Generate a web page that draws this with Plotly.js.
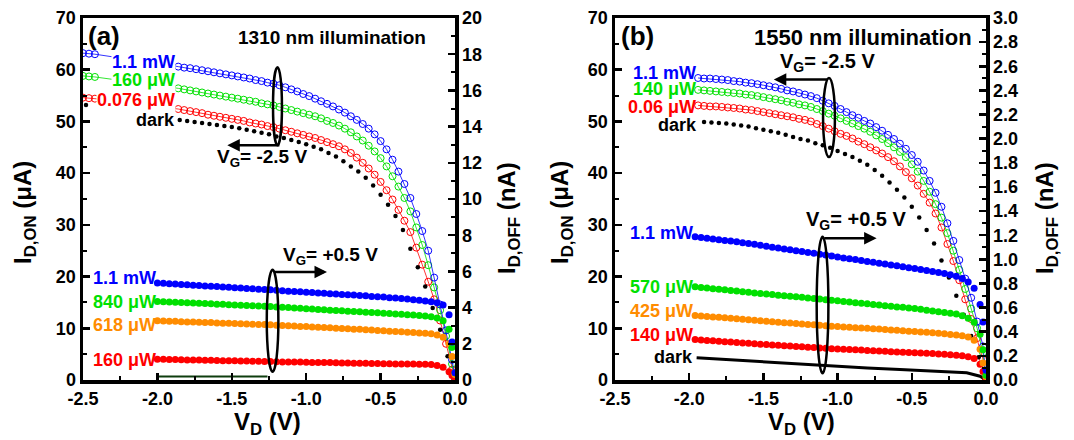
<!DOCTYPE html>
<html><head><meta charset="utf-8">
<script src="https://cdn.plot.ly/plotly-3.0.1.min.js"></script>
<style>html,body{margin:0;padding:0;background:#fff}#chart{width:1074px;height:440px}</style>
</head><body><div id="chart"></div>
<script>
// ---------- tick labels ----------
const xTickVals = [-2.5, -2.0, -1.5, -1.0, -0.5, 0.0];
const xTickText = ['-2.5', '-2.0', '-1.5', '-1.0', '-0.5', '0.0'];
const xMinorVals = [-2.25, -1.75, -1.25, -0.75, -0.25];
const yOnTickVals = [0, 10, 20, 30, 40, 50, 60, 70];
const yOnMinorVals = [5, 15, 25, 35, 45, 55, 65];
const yOffATickVals = [0, 2, 4, 6, 8, 10, 12, 14, 16, 18, 20];
const yOffAMinorVals = [1, 3, 5, 7, 9, 11, 13, 15, 17, 19];
const yOffBTickVals = [0, 0.2, 0.4, 0.6, 0.8, 1.0, 1.2, 1.4, 1.6, 1.8, 2.0, 2.2, 2.4, 2.6, 2.8, 3.0];
const yOffBTickText = ['0.0','0.2','0.4','0.6','0.8','1.0','1.2','1.4','1.6','1.8','2.0','2.2','2.4','2.6','2.8','3.0'];
const yOffBMinorVals = [0.1,0.3,0.5,0.7,0.9,1.1,1.3,1.5,1.7,1.9,2.1,2.3,2.5,2.7,2.9];

// ---------- panel (a): 1310 nm ----------
const vdOnA = [-2.5, -2.46, -2.42, -1.86, -1.82, -1.78, -1.74, -1.70, -1.66, -1.62, -1.58, -1.54, -1.50, -1.46, -1.42, -1.38, -1.34, -1.30, -1.26, -1.22, -1.18, -1.14, -1.10, -1.06, -1.02, -0.98, -0.94, -0.90, -0.86, -0.82, -0.78, -0.74, -0.70, -0.66, -0.62, -0.58, -0.54, -0.50, -0.46, -0.42, -0.38, -0.34, -0.30, -0.26, -0.22, -0.18, -0.14, -0.10, -0.06, -0.02, 0];
const onA_1p1mW = [63.2, 63.1, 63.0, 60.6, 60.4, 60.3, 60.1, 59.9, 59.7, 59.5, 59.3, 59.1, 58.9, 58.7, 58.5, 58.3, 58.0, 57.8, 57.5, 57.3, 57.0, 56.6, 56.2, 55.8, 55.3, 54.9, 54.4, 53.9, 53.4, 52.9, 52.3, 51.7, 51.0, 50.3, 49.5, 48.6, 47.5, 46.2, 44.6, 42.6, 40.3, 37.9, 35.2, 32.1, 28.8, 25.0, 19.8, 14.6, 9.6, 3.9, 0.5];
const onA_160uW = [58.8, 58.7, 58.6, 56.4, 56.2, 56.0, 55.8, 55.6, 55.4, 55.2, 55.0, 54.8, 54.6, 54.4, 54.2, 54.0, 53.8, 53.5, 53.3, 53.1, 52.8, 52.5, 52.2, 51.9, 51.6, 51.3, 51.0, 50.6, 50.1, 49.7, 49.2, 48.6, 47.9, 47.1, 46.3, 45.3, 44.2, 42.9, 41.3, 39.4, 37.4, 35.2, 32.6, 29.5, 26.1, 22.2, 17.9, 13.5, 8.5, 3.1, 0.4];
const onA_0076uW = [54.6, 54.5, 54.4, 52.4, 52.2, 52.0, 51.8, 51.6, 51.3, 51.1, 50.9, 50.7, 50.5, 50.3, 50.1, 49.8, 49.6, 49.4, 49.1, 48.9, 48.6, 48.3, 48.0, 47.7, 47.4, 47.1, 46.8, 46.4, 46.0, 45.6, 45.2, 44.6, 43.9, 43.0, 42.0, 40.9, 39.7, 38.3, 36.7, 34.9, 32.9, 30.8, 28.6, 25.6, 22.3, 19.0, 15.6, 11.5, 7.0, 2.0, 0.2];
const vdDarkA = [-2.48, -1.85, -1.80, -1.75, -1.70, -1.65, -1.60, -1.55, -1.50, -1.45, -1.40, -1.35, -1.30, -1.25, -1.20, -1.15, -1.10, -1.05, -1.00, -0.95, -0.90, -0.85, -0.80, -0.75, -0.70, -0.65, -0.60, -0.55, -0.50, -0.45, -0.40, -0.35, -0.30, -0.25, -0.20, -0.15, -0.10, -0.05, 0];
const onA_dark = [53.2, 50.3, 50.1, 49.9, 49.7, 49.5, 49.3, 49.1, 48.9, 48.7, 48.4, 48.1, 47.8, 47.5, 47.1, 46.8, 46.4, 46.0, 45.6, 45.1, 44.6, 43.9, 43.2, 42.3, 41.3, 40.3, 39.1, 37.6, 35.8, 33.9, 31.7, 29.0, 25.4, 21.8, 18.1, 13.9, 9.7, 4.6, 0.3];
const vdOffA = [-2.00, -1.96, -1.92, -1.88, -1.84, -1.80, -1.76, -1.72, -1.68, -1.64, -1.60, -1.56, -1.52, -1.48, -1.44, -1.40, -1.36, -1.32, -1.28, -1.24, -1.20, -1.16, -1.12, -1.08, -1.04, -1.00, -0.96, -0.92, -0.88, -0.84, -0.80, -0.76, -0.72, -0.68, -0.64, -0.60, -0.56, -0.52, -0.48, -0.44, -0.40, -0.36, -0.32, -0.28, -0.24, -0.20, -0.16, -0.12, -0.08, -0.04, -0.02, 0];
const offA_1p1mW = [5.36, 5.34, 5.32, 5.30, 5.28, 5.26, 5.24, 5.22, 5.20, 5.18, 5.16, 5.14, 5.12, 5.10, 5.08, 5.06, 5.04, 5.02, 5.00, 4.98, 4.96, 4.93, 4.91, 4.89, 4.87, 4.85, 4.83, 4.81, 4.79, 4.77, 4.75, 4.73, 4.71, 4.69, 4.67, 4.65, 4.62, 4.60, 4.58, 4.55, 4.53, 4.50, 4.47, 4.44, 4.40, 4.37, 4.33, 4.27, 4.15, 3.60, 2.10, 0.4];
const offA_840uW = [4.34, 4.33, 4.31, 4.30, 4.28, 4.27, 4.25, 4.24, 4.22, 4.21, 4.19, 4.18, 4.16, 4.15, 4.13, 4.12, 4.10, 4.09, 4.07, 4.06, 4.04, 4.02, 4.00, 3.98, 3.96, 3.94, 3.92, 3.90, 3.88, 3.86, 3.84, 3.82, 3.80, 3.78, 3.77, 3.75, 3.73, 3.71, 3.69, 3.67, 3.65, 3.63, 3.61, 3.59, 3.57, 3.54, 3.50, 3.42, 3.28, 2.80, 1.80, 0.4];
const offA_618uW = [3.27, 3.26, 3.25, 3.24, 3.22, 3.21, 3.20, 3.19, 3.18, 3.17, 3.15, 3.14, 3.13, 3.12, 3.11, 3.09, 3.08, 3.07, 3.06, 3.05, 3.03, 3.01, 3.00, 2.98, 2.96, 2.95, 2.93, 2.91, 2.90, 2.88, 2.86, 2.85, 2.83, 2.81, 2.80, 2.78, 2.76, 2.74, 2.72, 2.70, 2.68, 2.66, 2.64, 2.62, 2.60, 2.58, 2.55, 2.49, 2.36, 2.00, 1.30, 0.3];
const offA_160uW = [1.15, 1.14, 1.13, 1.13, 1.12, 1.11, 1.11, 1.10, 1.09, 1.09, 1.08, 1.07, 1.07, 1.06, 1.05, 1.05, 1.04, 1.03, 1.02, 1.02, 1.01, 1.00, 1.00, 0.99, 0.99, 0.98, 0.97, 0.97, 0.96, 0.96, 0.95, 0.94, 0.94, 0.93, 0.92, 0.92, 0.91, 0.91, 0.90, 0.90, 0.89, 0.89, 0.88, 0.88, 0.87, 0.87, 0.85, 0.80, 0.70, 0.45, 0.25, 0.05];
const vdOffDarkA = [-2.0, -1.26];
const offA_dark = [0.2, 0.2];

// ---------- panel (b): 1550 nm ----------
const vdOnB = [-1.94, -1.90, -1.86, -1.82, -1.78, -1.74, -1.70, -1.66, -1.62, -1.58, -1.54, -1.50, -1.46, -1.42, -1.38, -1.34, -1.30, -1.26, -1.22, -1.18, -1.14, -1.10, -1.06, -1.02, -0.98, -0.94, -0.90, -0.86, -0.82, -0.78, -0.74, -0.70, -0.66, -0.62, -0.58, -0.54, -0.50, -0.46, -0.42, -0.38, -0.34, -0.30, -0.26, -0.22, -0.18, -0.14, -0.10, -0.06, -0.02, 0];
const onB_1p1mW = [58.4, 58.3, 58.3, 58.2, 58.1, 58.0, 57.8, 57.7, 57.5, 57.4, 57.2, 57.0, 56.8, 56.6, 56.3, 56.0, 55.8, 55.5, 55.2, 54.9, 54.5, 54.0, 53.5, 53.0, 52.4, 51.8, 51.2, 50.7, 50.1, 49.6, 48.9, 48.2, 47.4, 46.6, 45.7, 44.7, 43.5, 42.2, 40.5, 38.5, 36.2, 33.5, 30.3, 26.9, 23.2, 19.6, 15.9, 11.3, 6.5, 0.5];
const onB_140uW = [56.1, 56.0, 55.9, 55.8, 55.7, 55.6, 55.5, 55.4, 55.2, 55.1, 54.9, 54.7, 54.5, 54.3, 54.1, 53.8, 53.6, 53.3, 53.1, 52.8, 52.4, 52.0, 51.5, 51.1, 50.6, 50.1, 49.6, 49.1, 48.6, 48.0, 47.3, 46.6, 45.8, 45.0, 44.1, 43.1, 41.7, 40.3, 38.5, 36.4, 34.0, 31.4, 28.4, 25.0, 21.3, 17.6, 13.8, 10.0, 5.3, 0.5];
const onB_006uW = [53.1, 53.0, 52.9, 52.9, 52.8, 52.7, 52.6, 52.5, 52.3, 52.2, 52.0, 51.8, 51.6, 51.4, 51.2, 51.0, 50.8, 50.5, 50.3, 50.0, 49.5, 49.1, 48.6, 48.1, 47.6, 47.2, 46.7, 46.1, 45.6, 45.0, 44.4, 43.8, 43.1, 42.3, 41.3, 40.2, 39.0, 37.6, 36.0, 34.3, 32.2, 29.5, 26.3, 23.0, 19.3, 15.6, 11.8, 8.1, 4.0, 0.3];
const vdDarkB = [-1.90, -1.85, -1.80, -1.75, -1.70, -1.65, -1.60, -1.55, -1.50, -1.45, -1.40, -1.35, -1.30, -1.25, -1.20, -1.15, -1.10, -1.05, -1.00, -0.95, -0.90, -0.85, -0.80, -0.75, -0.70, -0.65, -0.60, -0.55, -0.50, -0.45, -0.40, -0.35, -0.30, -0.25, -0.20, -0.15, -0.10, -0.05, 0];
const onB_dark = [49.9, 49.8, 49.7, 49.6, 49.4, 49.2, 49.0, 48.7, 48.4, 48.1, 47.8, 47.4, 47.0, 46.6, 46.3, 45.8, 45.4, 44.9, 44.3, 43.7, 43.1, 42.4, 41.6, 40.6, 39.5, 38.2, 36.8, 35.3, 33.5, 31.4, 29.0, 26.4, 23.1, 19.8, 16.3, 12.6, 8.5, 4.4, 0.3];
const vdOffB = [-1.96, -1.92, -1.88, -1.84, -1.80, -1.76, -1.72, -1.68, -1.64, -1.60, -1.56, -1.52, -1.48, -1.44, -1.40, -1.36, -1.32, -1.28, -1.24, -1.20, -1.16, -1.12, -1.08, -1.04, -1.00, -0.96, -0.92, -0.88, -0.84, -0.80, -0.76, -0.72, -0.68, -0.64, -0.60, -0.56, -0.52, -0.48, -0.44, -0.40, -0.36, -0.32, -0.28, -0.24, -0.20, -0.16, -0.12, -0.08, -0.04, -0.02, 0];
const offB_1p1mW = [1.187, 1.181, 1.175, 1.169, 1.163, 1.157, 1.151, 1.145, 1.138, 1.131, 1.124, 1.116, 1.108, 1.100, 1.093, 1.086, 1.079, 1.072, 1.065, 1.057, 1.050, 1.042, 1.035, 1.027, 1.020, 1.012, 1.005, 0.998, 0.991, 0.983, 0.976, 0.968, 0.961, 0.953, 0.946, 0.938, 0.931, 0.923, 0.915, 0.908, 0.900, 0.891, 0.882, 0.872, 0.860, 0.842, 0.812, 0.760, 0.625, 0.48, 0.08];
const offB_570uW = [0.772, 0.767, 0.762, 0.757, 0.752, 0.747, 0.742, 0.737, 0.732, 0.727, 0.722, 0.717, 0.713, 0.708, 0.703, 0.699, 0.694, 0.689, 0.685, 0.680, 0.676, 0.671, 0.666, 0.661, 0.656, 0.651, 0.646, 0.641, 0.636, 0.631, 0.626, 0.621, 0.616, 0.611, 0.606, 0.602, 0.597, 0.592, 0.586, 0.579, 0.571, 0.565, 0.559, 0.553, 0.546, 0.532, 0.511, 0.478, 0.380, 0.25, 0.04];
const offB_425uW = [0.535, 0.531, 0.527, 0.523, 0.519, 0.515, 0.511, 0.507, 0.503, 0.499, 0.495, 0.491, 0.487, 0.483, 0.479, 0.475, 0.472, 0.468, 0.464, 0.460, 0.457, 0.453, 0.449, 0.446, 0.443, 0.440, 0.437, 0.434, 0.431, 0.428, 0.425, 0.422, 0.419, 0.415, 0.412, 0.409, 0.405, 0.402, 0.398, 0.395, 0.391, 0.387, 0.383, 0.378, 0.373, 0.366, 0.356, 0.330, 0.255, 0.14, 0.03];
const offB_140uW = [0.336, 0.332, 0.328, 0.325, 0.321, 0.318, 0.314, 0.311, 0.307, 0.304, 0.300, 0.297, 0.294, 0.291, 0.288, 0.284, 0.281, 0.278, 0.275, 0.272, 0.269, 0.266, 0.263, 0.259, 0.257, 0.254, 0.252, 0.250, 0.248, 0.245, 0.243, 0.240, 0.238, 0.235, 0.232, 0.230, 0.228, 0.226, 0.224, 0.222, 0.219, 0.216, 0.213, 0.209, 0.205, 0.200, 0.193, 0.178, 0.130, 0.07, 0.01];
const vdOffDarkB = [-1.95, -1.70, -1.48, -1.25, -1.03, -0.80, -0.58, -0.36, -0.13, -0.04, 0];
const offB_dark = [0.184, 0.165, 0.150, 0.132, 0.114, 0.100, 0.087, 0.073, 0.060, 0.031, 0.0];

// ---------- styling ----------
const FONT = 'Liberation Sans, Arial, sans-serif';
const BLUE = '#0000ff', GREEN = '#00e000', RED = '#ff0000', ORANGE = '#ff8c00', BLACK = '#000000';
const W = 1074, H = 440;
const px = v => v / W, py = v => 1 - v / H;

function onTrace(x, y, color, xa, ya) {
  return {x, y, xaxis: xa, yaxis: ya, type: 'scatter', mode: 'lines+markers',
    line: {color, width: 0.8}, marker: {symbol: 'circle-open', size: 7, color, line: {width: 1, color}},
    hoverinfo: 'skip', showlegend: false};
}
function darkOnTrace(x, y, xa, ya) {
  return {x, y, xaxis: xa, yaxis: ya, type: 'scatter', mode: 'markers',
    marker: {symbol: 'circle', size: 4.5, color: BLACK}, hoverinfo: 'skip', showlegend: false};
}
function offTrace(x, y, color, xa, ya) {
  return {x, y, xaxis: xa, yaxis: ya, type: 'scatter', mode: 'markers',
    marker: {symbol: 'circle', size: 7, color, line: {width: 0}}, hoverinfo: 'skip', showlegend: false};
}
function lineTrace(x, y, color, width, xa, ya) {
  return {x, y, xaxis: xa, yaxis: ya, type: 'scatter', mode: 'lines',
    line: {color, width}, hoverinfo: 'skip', showlegend: false};
}

const data = [
  offTrace(vdOffA, offA_160uW, RED, 'x', 'y2'),
  offTrace(vdOffA, offA_618uW, ORANGE, 'x', 'y2'),
  offTrace(vdOffA, offA_840uW, GREEN, 'x', 'y2'),
  offTrace(vdOffA, offA_1p1mW, BLUE, 'x', 'y2'),
  lineTrace(vdOffDarkA, offA_dark, '#0e3d0e', 2, 'x', 'y2'),
  onTrace(vdOnA, onA_0076uW, RED, 'x', 'y'),
  onTrace(vdOnA, onA_160uW, GREEN, 'x', 'y'),
  onTrace(vdOnA, onA_1p1mW, BLUE, 'x', 'y'),
  darkOnTrace(vdDarkA, onA_dark, 'x', 'y'),

  lineTrace(vdOffDarkB, offB_dark, BLACK, 3, 'x2', 'y4'),
  offTrace(vdOffB, offB_140uW, RED, 'x2', 'y4'),
  offTrace(vdOffB, offB_425uW, ORANGE, 'x2', 'y4'),
  offTrace(vdOffB, offB_570uW, GREEN, 'x2', 'y4'),
  offTrace(vdOffB, offB_1p1mW, BLUE, 'x2', 'y4'),
  onTrace(vdOnB, onB_006uW, RED, 'x2', 'y3'),
  onTrace(vdOnB, onB_140uW, GREEN, 'x2', 'y3'),
  onTrace(vdOnB, onB_1p1mW, BLUE, 'x2', 'y3'),
  darkOnTrace(vdDarkB, onB_dark, 'x2', 'y3')
];

const tickFont = {family: FONT, size: 18, color: BLACK, weight: 'bold'};
const baseAxis = {showgrid: false, zeroline: false, showline: true, linecolor: BLACK, linewidth: 3.5,
  ticks: 'inside', ticklen: 7, tickwidth: 2.5, tickcolor: BLACK, tickfont: tickFont, fixedrange: true};
const yDom = [1 - 380 / H, 1 - 18 / H];
function xAxis(domain, anchor) {
  return Object.assign({}, baseAxis, {domain, anchor, range: [-2.5, 0], tickmode: 'array',
    tickvals: xTickVals, ticktext: xTickText, mirror: true,
    minor: {ticks: 'inside', ticklen: 4, tickwidth: 2, tickcolor: BLACK, tickmode: 'array', tickvals: xMinorVals}});
}
function yLeft(anchor) {
  return Object.assign({}, baseAxis, {domain: yDom, anchor, range: [0, 70], tickmode: 'array',
    tickvals: yOnTickVals, side: 'left',
    minor: {ticks: 'inside', ticklen: 4, tickwidth: 2, tickcolor: BLACK, tickmode: 'array', tickvals: yOnMinorVals}});
}
function yRight(anchor, overlay, range, vals, text, minorVals) {
  const a = Object.assign({}, baseAxis, {anchor, overlaying: overlay, side: 'right', range, tickmode: 'array',
    tickvals: vals,
    minor: {ticks: 'inside', ticklen: 4, tickwidth: 2, tickcolor: BLACK, tickmode: 'array', tickvals: minorVals}});
  if (text) a.ticktext = text;
  return a;
}

const labFont = (c, s) => ({family: FONT, size: s || 18, color: c, weight: 'bold'});
function lab(text, x, y, color, xa, ya, bg) {
  return {text, x, y, xref: xa, yref: ya, xanchor: 'right', yanchor: 'middle', showarrow: false,
    font: labFont(color), bgcolor: bg ? '#ffffff' : 'rgba(0,0,0,0)', borderpad: 0};
}
function txt(text, x, y, xa, ya, size, xanchor) {
  return {text, x, y, xref: xa, yref: ya, xanchor: xanchor || 'center', yanchor: 'middle', showarrow: false,
    font: labFont(BLACK, size)};
}
function arrow(xHead, yHead, xTail, yTail, xa, ya) {
  return {text: '', x: xHead, y: yHead, ax: xTail, ay: yTail, xref: xa, yref: ya, axref: xa, ayref: ya,
    showarrow: true, arrowhead: 2, arrowsize: 1, arrowwidth: 2.5, arrowcolor: BLACK, standoff: 0, startstandoff: 0};
}

const annotations = [
  // panel (a)
  txt('(a)', -2.48, 66.6, 'x', 'y', 26, 'left'),
  txt('1310 nm illumination', -0.827, 66.3, 'x', 'y', 19),
  lab('1.1 mW', -1.875, 61.5, BLUE, 'x', 'y', true),
  lab('160 μW', -1.875, 58.0, GREEN, 'x', 'y', true),
  lab('0.076 μW', -1.875, 54.1, RED, 'x', 'y', true),
  lab('dark', -1.875, 50.3, BLACK, 'x', 'y', true),
  lab('1.1 mW', -2.0, 19.7, BLUE, 'x', 'y'),
  lab('840 μW', -2.0, 15.1, GREEN, 'x', 'y'),
  lab('618 μW', -2.0, 10.6, ORANGE, 'x', 'y'),
  lab('160 μW', -2.0, 3.9, RED, 'x', 'y'),
  txt('V<sub>G</sub>= -2.5 V', -1.30, 43.0, 'x', 'y', 19),
  arrow(-1.53, 45.4, -1.17, 45.4, 'x', 'y'),
  txt('V<sub>G</sub>= +0.5 V', -0.835, 24.0, 'x', 'y', 19),
  arrow(-0.86, 20.9, -1.226, 20.9, 'x', 'y'),
  // panel (b)
  txt('(b)', -2.47, 66.6, 'x2', 'y3', 26, 'left'),
  txt('1550 nm illumination', -0.829, 66.3, 'x2', 'y3', 22),
  lab('1.1 mW', -1.95, 59.4, BLUE, 'x2', 'y3'),
  lab('140 μW', -1.95, 56.2, GREEN, 'x2', 'y3'),
  lab('0.06 μW', -1.95, 52.8, RED, 'x2', 'y3'),
  lab('dark', -1.94, 49.3, BLACK, 'x2', 'y3'),
  lab('1.1 mW', -1.97, 28.4, BLUE, 'x2', 'y3'),
  lab('570 μW', -1.97, 17.9, GREEN, 'x2', 'y3'),
  lab('425 μW', -1.97, 13.4, ORANGE, 'x2', 'y3'),
  lab('140 μW', -1.97, 8.7, RED, 'x2', 'y3'),
  lab('dark', -1.97, 4.4, BLACK, 'x2', 'y3'),
  txt('V<sub>G</sub>= -2.5 V', -1.065, 61.3, 'x2', 'y3', 20),
  arrow(-1.43, 58.1, -1.055, 58.1, 'x2', 'y3'),
  txt('V<sub>G</sub>= +0.5 V', -0.876, 30.9, 'x2', 'y3', 20),
  arrow(-0.737, 27.4, -1.10, 27.4, 'x2', 'y3'),
  // axis titles
  {text: 'I<sub>D,ON</sub> (μA)', x: px(24), y: py(213), xref: 'paper', yref: 'paper', textangle: -90,
   showarrow: false, xanchor: 'center', yanchor: 'middle', font: labFont(BLACK, 24)},
  {text: 'I<sub>D,OFF</sub> (nA)', x: px(508), y: py(218), xref: 'paper', yref: 'paper', textangle: -90,
   showarrow: false, xanchor: 'center', yanchor: 'middle', font: labFont(BLACK, 24)},
  {text: 'V<sub>D</sub> (V)', x: px(267), y: py(423), xref: 'paper', yref: 'paper',
   showarrow: false, xanchor: 'center', yanchor: 'middle', font: labFont(BLACK, 24)},
  {text: 'I<sub>D,ON</sub> (μA)', x: px(561), y: py(213), xref: 'paper', yref: 'paper', textangle: -90,
   showarrow: false, xanchor: 'center', yanchor: 'middle', font: labFont(BLACK, 24)},
  {text: 'I<sub>D,OFF</sub> (nA)', x: px(1046), y: py(218), xref: 'paper', yref: 'paper', textangle: -90,
   showarrow: false, xanchor: 'center', yanchor: 'middle', font: labFont(BLACK, 24)},
  {text: 'V<sub>D</sub> (V)', x: px(801), y: py(423), xref: 'paper', yref: 'paper',
   showarrow: false, xanchor: 'center', yanchor: 'middle', font: labFont(BLACK, 24)}
];

const shapes = [
  {type: 'circle', xref: 'x', yref: 'y', x0: -1.223, x1: -1.163, y0: 45.4, y1: 60.5, line: {color: BLACK, width: 2.5}},
  {type: 'circle', xref: 'x', yref: 'y', x0: -1.265, x1: -1.187, y0: 1.6, y1: 21.3, line: {color: BLACK, width: 2.5}},
  {type: 'circle', xref: 'x2', yref: 'y3', x0: -1.098, x1: -1.018, y0: 43.1, y1: 58.4, line: {color: BLACK, width: 2.5}},
  {type: 'circle', xref: 'x2', yref: 'y3', x0: -1.141, x1: -1.062, y0: 1.3, y1: 27.7, line: {color: BLACK, width: 2.5}}
];

const layout = {
  width: W, height: H, margin: {l: 0, r: 0, t: 0, b: 0}, paper_bgcolor: '#fff', plot_bgcolor: '#fff',
  showlegend: false, font: {family: FONT, color: BLACK},
  xaxis: xAxis([83 / W, 455 / W], 'y'),
  yaxis: yLeft('x'),
  yaxis2: yRight('x', 'y', [0, 20], yOffATickVals, null, yOffAMinorVals),
  xaxis2: xAxis([615 / W, 986 / W], 'y3'),
  yaxis3: yLeft('x2'),
  yaxis4: yRight('x2', 'y3', [0, 3], yOffBTickVals, yOffBTickText, yOffBMinorVals),
  annotations, shapes
};

Plotly.newPlot('chart', data, layout, {displayModeBar: false, staticPlot: true});
</script></body></html>
